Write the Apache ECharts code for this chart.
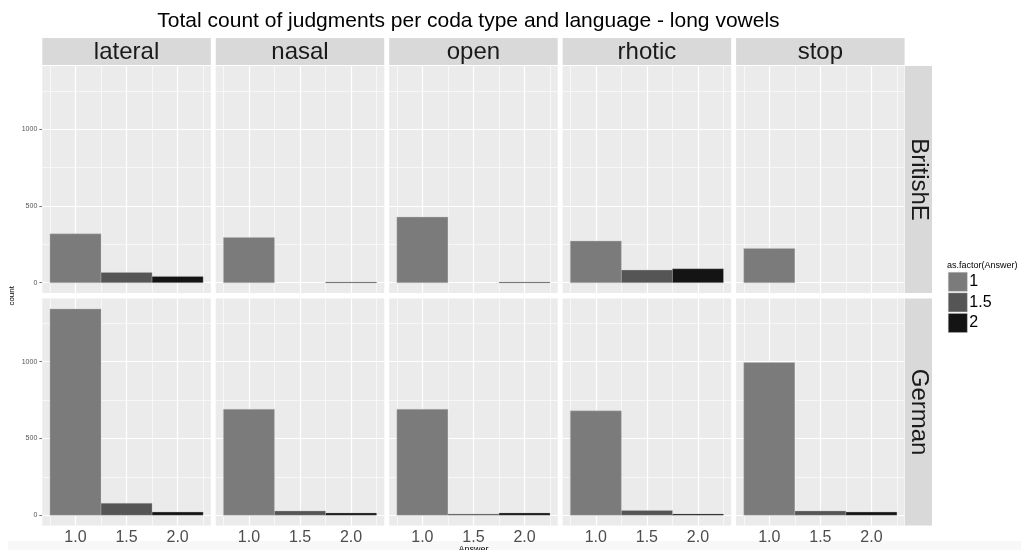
<!DOCTYPE html>
<html>
<head>
<meta charset="utf-8">
<script src="https://cdn.jsdelivr.net/npm/echarts@6/dist/echarts.min.js"></script>
<style>
html,body{margin:0;padding:0;background:#fff;}
#chart{width:1021px;height:550px;}
</style>
</head>
<body>
<div id="chart"></div>
<script>
// ---- data ----
const codas = ['lateral', 'nasal', 'open', 'rhotic', 'stop'];
const languages = ['BritishE', 'German'];
const answers = [1, 1.5, 2];
const answerNames = ['1', '1.5', '2'];
const britishE_1 = [318, 294, 427, 271, 223];
const britishE_15 = [67, 0, 0, 82, 0];
const britishE_2 = [41, 4, 4, 91, 0];
const german_1 = [1344, 690, 690, 680, 995];
const german_15 = [78, 28, 9, 31, 28];
const german_2 = [21, 15, 15, 9, 21];
const xTicks = [1.0, 1.5, 2.0];
const xMinorTicks = [0.75, 1.25, 1.75, 2.25];
const yTicks = [0, 500, 1000];
const yMinorTicks = [250, 750, 1250];
const titleText = 'Total count of judgments per coda type and language - long vowels';
const legendTitle = 'as.factor(Answer)';
const xName = 'Answer';
const yName = 'count';

// ---- styling / layout ----
const counts = { BritishE: [britishE_1, britishE_15, britishE_2], German: [german_1, german_15, german_2] };
const fills = ['#7b7b7b', '#555555', '#141414'];
const FONT = 'Liberation Sans, Arial, Helvetica, sans-serif';
const panelLeft0 = 42.3, panelStep = 173.45, panelW = 168.5;
const rowTops = [66, 298.6], panelH = 227;
const stripTop = 38, stripH = 27;
const rStripX = 905, rStripW = 27;

const allVals = [].concat(britishE_1, britishE_15, britishE_2, german_1, german_15, german_2);
const maxCount = Math.max.apply(null, allVals);
const yMin = -0.05 * maxCount, yMax = 1.05 * maxCount;
const xMin = 0.75 - 0.075, xMax = 2.25 + 0.075;

const grids = [], xAxes = [], yAxes = [], series = [], graphics = [];
let gi = 0;
languages.forEach((lang, r) => {
  codas.forEach((coda, c) => {
    grids.push({
      left: panelLeft0 + c * panelStep, top: rowTops[r], width: panelW, height: panelH,
      show: true, backgroundColor: '#ebebeb', borderWidth: 0, containLabel: false
    });
    xAxes.push({
      type: 'value', gridIndex: gi, min: xMin, max: xMax,
      axisLine: { show: false },
      splitLine: { show: false },
      axisTick: { show: r === 1, customValues: xTicks, length: 3, lineStyle: { color: '#555', width: 1 } },
      axisLabel: { show: r === 1, customValues: xTicks, formatter: v => v.toFixed(1), color: '#4d4d4d', fontSize: 16, fontFamily: FONT, margin: 4 }
    });
    yAxes.push({
      type: 'value', gridIndex: gi, min: yMin, max: yMax,
      axisLine: { show: false },
      splitLine: { show: false },
      axisTick: { show: c === 0, customValues: yTicks, length: 3, lineStyle: { color: '#555', width: 0.8 } },
      axisLabel: { show: c === 0, customValues: yTicks, formatter: v => String(Math.round(v)), color: '#555', fontSize: 7, fontFamily: FONT, margin: 5 }
    });
    // gridlines (drawn under bars)
    const ml = [];
    xMinorTicks.forEach(v => ml.push({ xAxis: v, lineStyle: { color: '#fff', width: 0.6, type: 'solid' } }));
    xTicks.forEach(v => ml.push({ xAxis: v, lineStyle: { color: '#fff', width: 1.2, type: 'solid' } }));
    yMinorTicks.forEach(v => ml.push({ yAxis: v, lineStyle: { color: '#fff', width: 0.6, type: 'solid' } }));
    yTicks.forEach(v => ml.push({ yAxis: v, lineStyle: { color: '#fff', width: 1.2, type: 'solid' } }));
    series.push({
      type: 'custom', xAxisIndex: gi, yAxisIndex: gi, data: [], z: 1, silent: true,
      renderItem: () => null,
      markLine: { silent: true, symbol: 'none', z: 1, animation: false, label: { show: false }, emphasis: { disabled: true }, data: ml }
    });
    answers.forEach((a, k) => {
      series.push({
        type: 'custom', name: answerNames[k], xAxisIndex: gi, yAxisIndex: gi, z: 3,
        itemStyle: { color: fills[k] },
        data: [[a, counts[lang][k][c]]],
        renderItem: function (params, api) {
          const x = api.value(0), y = api.value(1);
          if (!(y > 0)) return null;
          const p0 = api.coord([x - 0.25, y]);
          const p1 = api.coord([x + 0.25, 0]);
          return {
            type: 'rect',
            shape: { x: p0[0], y: p0[1], width: p1[0] - p0[0], height: Math.max(p1[1] - p0[1], 0.8) },
            style: { fill: fills[k], stroke: 'rgba(190,190,190,0.6)', lineWidth: 0.6 }
          };
        }
      });
    });
    gi++;
  });
});

// strips on top
codas.forEach((coda, c) => {
  const x = panelLeft0 + c * panelStep;
  graphics.push({ type: 'rect', z: 10, shape: { x: x, y: stripTop, width: panelW, height: stripH }, style: { fill: '#d9d9d9' } });
  graphics.push({ type: 'text', z: 11, x: x + panelW / 2, y: stripTop + stripH / 2 + 1,
    style: { text: coda, fill: '#1a1a1a', font: '24px ' + FONT, textAlign: 'center', textVerticalAlign: 'middle' } });
});
// strips on right
languages.forEach((lang, r) => {
  graphics.push({ type: 'rect', z: 10, shape: { x: rStripX, y: rowTops[r], width: rStripW, height: panelH }, style: { fill: '#d9d9d9' } });
  graphics.push({ type: 'text', z: 11, x: rStripX + rStripW / 2, y: rowTops[r] + panelH / 2, rotation: -Math.PI / 2,
    style: { text: lang, fill: '#1a1a1a', font: '24px ' + FONT, textAlign: 'center', textVerticalAlign: 'middle' } });
});
const panelsCenter = panelLeft0 + (4 * panelStep + panelW) / 2;
graphics.push({ type: 'text', z: 11, x: panelsCenter - 5, y: 21,
  style: { text: titleText, fill: '#000', font: '21px ' + FONT, textAlign: 'center', textVerticalAlign: 'middle' } });
graphics.push({ type: 'text', z: 11, x: 12, y: (rowTops[0] + rowTops[1] + panelH) / 2, rotation: Math.PI / 2,
  style: { text: yName, fill: '#000', font: '8px ' + FONT, textAlign: 'center', textVerticalAlign: 'middle' } });
graphics.push({ type: 'rect', z: -10, shape: { x: 8, y: 541, width: 1013, height: 9 }, style: { fill: '#f8f8f8' } });
graphics.push({ type: 'text', z: 11, x: panelsCenter, y: 545.5,
  style: { text: xName, fill: '#000', font: '9px ' + FONT, textAlign: 'center', textVerticalAlign: 'top' } });
graphics.push({ type: 'text', z: 11, x: 947, y: 266,
  style: { text: legendTitle, fill: '#000', font: '9px ' + FONT, textAlign: 'left', textVerticalAlign: 'middle' } });

const chart = echarts.init(document.getElementById('chart'), null, { renderer: 'canvas' });
chart.setOption({
  animation: false,
  backgroundColor: '#fff',
  grid: grids,
  xAxis: xAxes,
  yAxis: yAxes,
  series: series,
  legend: {
    data: answerNames.map((n, k) => ({ name: n, itemStyle: { color: fills[k], borderColor: 'rgba(190,190,190,0.6)', borderWidth: 0.6 } })),
    orient: 'vertical', left: 948, top: 272, itemWidth: 19, itemHeight: 19, itemGap: 1,
    icon: 'rect', selectedMode: false, padding: 0,
    textStyle: { fontSize: 16, color: '#000', fontFamily: FONT, padding: [0, 0, 0, -3] }
  },
  graphic: { elements: graphics }
});
</script>
</body>
</html>
